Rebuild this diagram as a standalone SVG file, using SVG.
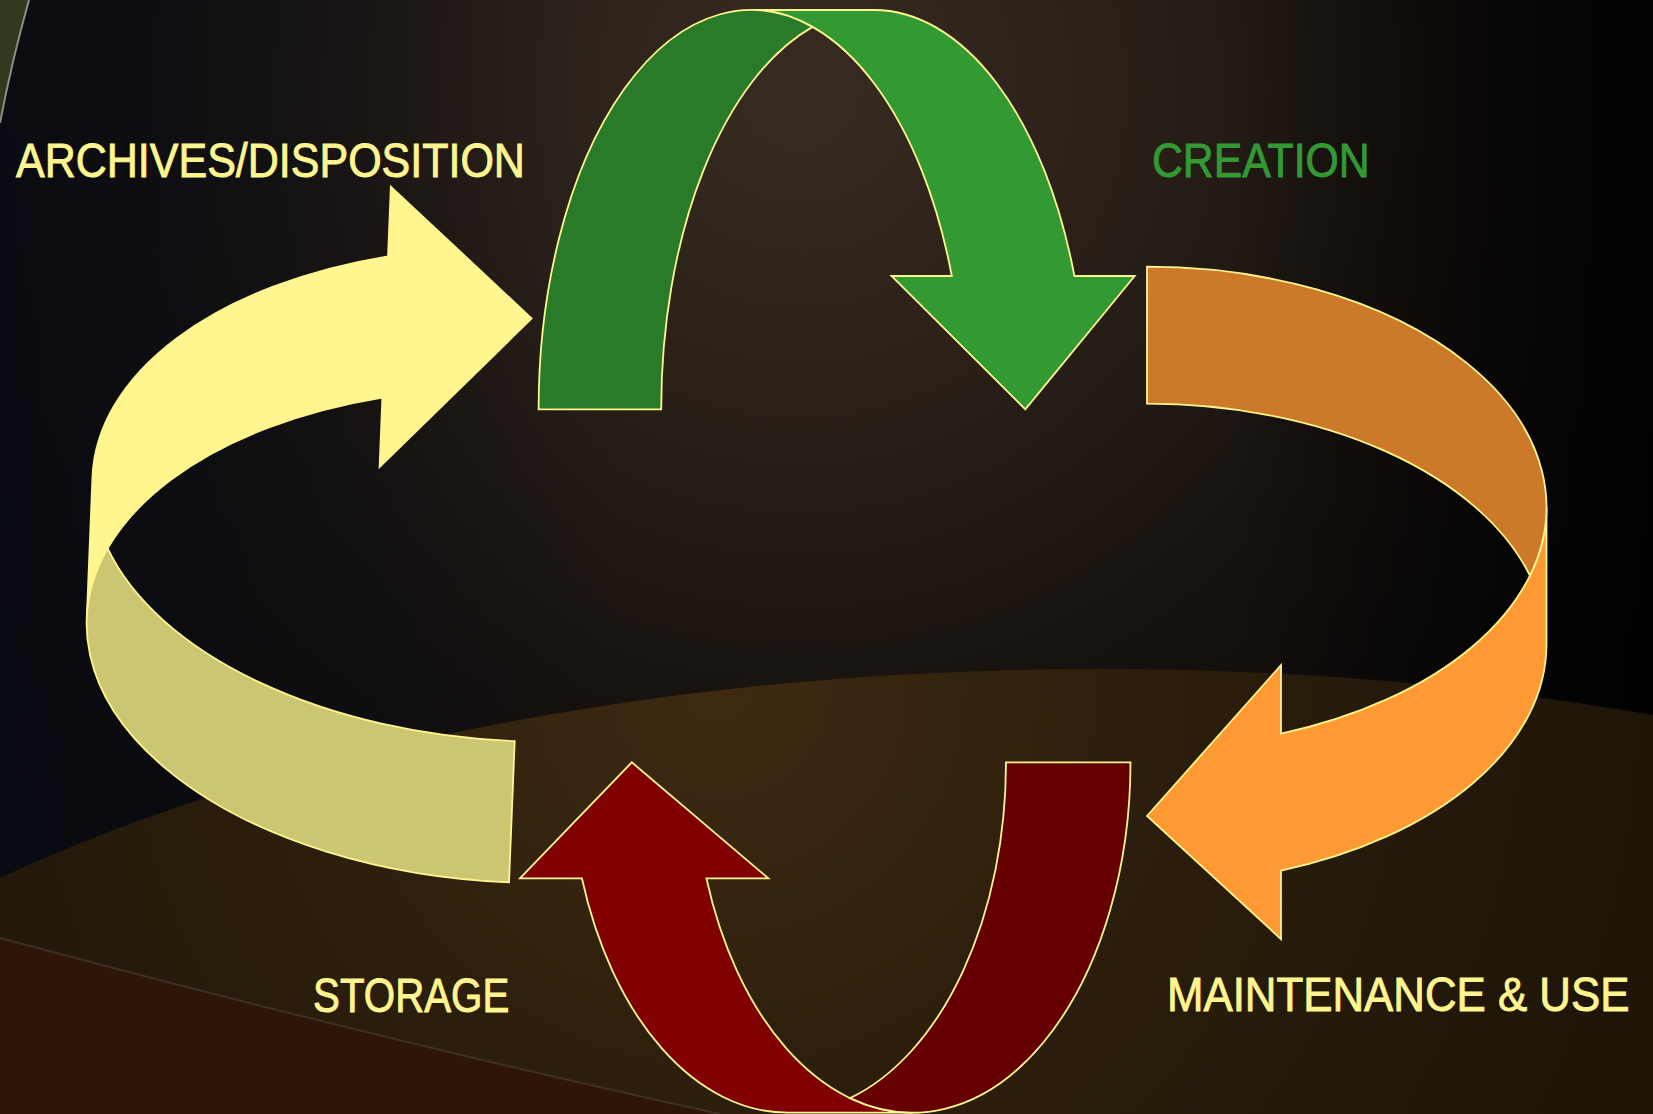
<svg xmlns="http://www.w3.org/2000/svg" width="1653" height="1114" viewBox="0 0 1653 1114">
  <style>
    .label { font-family: "Liberation Sans", Arial, sans-serif; font-size: 48px; stroke-width: 0.9px; }
    .yellow-text { fill: #FFF58F; stroke: #FFF58F; }
    .green-text { fill: #339933; stroke: #339933; }
    .arrow path { stroke: #FFF58F; stroke-width: 1.8; stroke-linejoin: miter; }
  </style>
  <defs>
    <radialGradient id="bgGlow" gradientUnits="userSpaceOnUse" cx="800" cy="90" r="1050">
      <stop offset="0" stop-color="#382C22"/>
      <stop offset="0.3" stop-color="#2A2018"/>
      <stop offset="0.62" stop-color="#16110E"/>
      <stop offset="1" stop-color="#060607"/>
    </radialGradient>
    <linearGradient id="leftTint" gradientUnits="userSpaceOnUse" x1="0" y1="0" x2="620" y2="0">
      <stop offset="0" stop-color="#0A0C14" stop-opacity="0.85"/>
      <stop offset="1" stop-color="#0A0C14" stop-opacity="0"/>
    </linearGradient>
    <linearGradient id="rightShade" gradientUnits="userSpaceOnUse" x1="1653" y1="0" x2="1230" y2="0">
      <stop offset="0" stop-color="#000000" stop-opacity="0.85"/>
      <stop offset="1" stop-color="#000000" stop-opacity="0"/>
    </linearGradient>
    <radialGradient id="floorGlow" gradientUnits="userSpaceOnUse" cx="720" cy="690" r="950">
      <stop offset="0" stop-color="#3E2A12"/>
      <stop offset="0.45" stop-color="#2C1E0C"/>
      <stop offset="1" stop-color="#1E1508"/>
    </radialGradient>
  </defs>

  <!-- backdrop -->
  <rect x="0" y="0" width="1653" height="1114" fill="url(#bgGlow)"/>
  <rect x="0" y="0" width="1653" height="1114" fill="url(#leftTint)"/>
  <rect x="0" y="0" width="1653" height="1114" fill="url(#rightShade)"/>
  <ellipse cx="1100" cy="1322" rx="1500" ry="653" fill="url(#floorGlow)"/>
  <path d="M0,938 Q380,1040 720,1114 L0,1114 Z" fill="#2E1507"/>
  <path d="M0,938 Q380,1040 720,1114" fill="none" stroke="#4A4238" stroke-width="2" stroke-opacity="0.6"/>
  <path d="M0,0 L29,0 Q12,60 0,123 Z" fill="#2F3A1F"/>
  <path d="M29,0 Q12,60 0,123" fill="none" stroke="#8C8C88" stroke-width="2"/>

  <!-- cycle arrows -->
  <g id="connectors">
    <g id="arrow-creation" class="arrow" transform="translate(538.6 10)">
      <path fill="#339933" d="M486.7,399.3 L352.9,266 L413.2,266 A212.7,399.3 0 0 0 212.7,0 L335.3,0 A212.7,399.3 0 0 1 535.8,266 L596.1,266 Z"/>
      <path fill="#297A29" d="M274,16.9 A212.7,399.3 0 0 0 122.6,399.3 L0,399.3 A212.7,399.3 0 0 1 274,16.9 Z"/>
    </g>
    <g id="arrow-maintenance" class="arrow" transform="translate(1546.5 266.7) rotate(90)">
      <path fill="#FF9933" d="M549.3,399.5 L398.4,265.5 L466.9,265.5 A240.4,399.5 0 0 0 240.4,0 L377.4,0 A240.4,399.5 0 0 1 603.9,265.5 L672.4,265.5 Z"/>
      <path fill="#CC7A29" d="M308.9,16.6 A240.4,399.5 0 0 0 137,399.5 L0,399.5 A240.4,399.5 0 0 1 308.9,16.6 Z"/>
    </g>
    <g id="arrow-storage" class="arrow" transform="translate(1130.5 1112.7) rotate(180)">
      <path fill="#800000" d="M498.7,350.4 L362.1,234.4 L424.1,234.4 A218.2,350.4 0 0 0 218.2,0 L342.7,0 A218.2,350.4 0 0 1 548.6,234.4 L610.6,234.4 Z"/>
      <path fill="#660000" d="M280.5,14.6 A218.2,350.4 0 0 0 124.5,350.4 L0,350.4 A218.2,350.4 0 0 1 280.5,14.6 Z"/>
    </g>
    <g id="arrow-archives" class="arrow" transform="rotate(2.3 300 530) translate(90.5 873.7) rotate(-90)">
      <path fill="#FFF68F" d="M564.4,432.5 L409.7,286.5 L479.3,286.5 A246.9,432.5 0 0 0 246.9,0 L388.3,0 A246.9,432.5 0 0 1 620.7,286.5 L690.4,286.5 Z"/>
      <path fill="#CCC572" d="M317.6,18.1 A246.9,432.5 0 0 0 141.4,432.5 L0,432.5 A246.9,432.5 0 0 1 317.6,18.1 Z"/>
    </g>
  </g>

  <!-- stage labels (glyphs narrowed horizontally) -->
  <g id="stage-archives">
    <text class="label yellow-text" transform="translate(16 177) scale(0.896 1)">ARCHIVES/DISPOSITION</text>
  </g>
  <g id="stage-creation">
    <text class="label green-text" transform="translate(1152 177) scale(0.891 1)">CREATION</text>
  </g>
  <g id="stage-maintenance">
    <text class="label yellow-text" transform="translate(1167 1011) scale(0.913 1)">MAINTENANCE &amp; USE</text>
  </g>
  <g id="stage-storage">
    <text class="label yellow-text" transform="translate(313 1012) scale(0.84 1)">STORAGE</text>
  </g>
</svg>
